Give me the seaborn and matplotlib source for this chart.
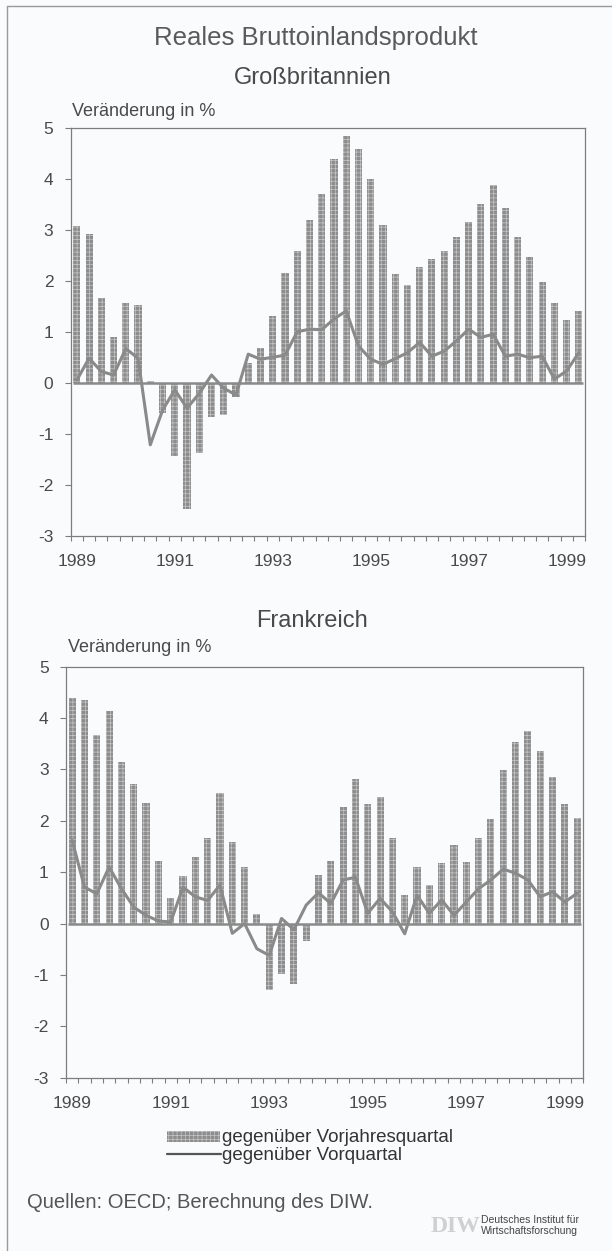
import numpy as np
import pandas as pd
import matplotlib
matplotlib.use("Agg")
import matplotlib.pyplot as plt
from matplotlib.lines import Line2D
from matplotlib.patches import Rectangle
import seaborn as sns

# ---------------- data ----------------
quarters = [f"{y}Q{q}" for y in range(1989, 2000) for q in range(1, 5)][:42]

uk_yoy = [3.08, 2.92, 1.67, 0.90, 1.56, 1.52, 0.03, -0.60, -1.44, -2.47,
          -1.39, -0.67, -0.64, -0.28, 0.39, 0.69, 1.30, 2.15, 2.58, 3.20,
          3.70, 4.39, 4.84, 4.59, 4.00, 3.10, 2.14, 1.92, 2.27, 2.42,
          2.58, 2.86, 3.15, 3.51, 3.88, 3.43, 2.86, 2.46, 1.98, 1.57,
          1.23, 1.40]
uk_qoq = [0.05, 0.48, 0.22, 0.15, 0.67, 0.48, -1.22, -0.54, -0.14, -0.50,
          -0.21, 0.15, -0.11, -0.24, 0.56, 0.46, 0.50, 0.54, 1.00, 1.05,
          1.04, 1.25, 1.41, 0.72, 0.46, 0.36, 0.47, 0.59, 0.79, 0.52,
          0.62, 0.82, 1.05, 0.89, 0.95, 0.52, 0.56, 0.49, 0.52, 0.07,
          0.23, 0.59]
fr_yoy = [4.40, 4.35, 3.67, 4.14, 3.14, 2.71, 2.34, 1.21, 0.49, 0.92,
          1.30, 1.66, 2.55, 1.59, 1.10, 0.19, -1.30, -0.99, -1.18, -0.34,
          0.95, 1.22, 2.27, 2.81, 2.32, 2.47, 1.67, 0.55, 1.11, 0.76,
          1.18, 1.53, 1.19, 1.67, 2.04, 2.99, 3.53, 3.74, 3.35, 2.86,
          2.32, 2.06]
fr_qoq = [1.62, 0.71, 0.58, 1.10, 0.68, 0.32, 0.16, 0.05, 0.03, 0.71,
          0.52, 0.45, 0.75, -0.19, 0.00, -0.49, -0.62, 0.10, -0.12, 0.36,
          0.60, 0.39, 0.85, 0.90, 0.20, 0.49, 0.23, -0.20, 0.55, 0.20,
          0.46, 0.16, 0.42, 0.68, 0.85, 1.06, 0.98, 0.85, 0.52, 0.62,
          0.42, 0.59]
year_labels = ["1989", "1991", "1993", "1995", "1997", "1999"]
y_ticks = [-3, -2, -1, 0, 1, 2, 3, 4, 5]

title = "Reales Bruttoinlandsprodukt"
panels = ["Großbritannien", "Frankreich"]
ylabel = "Veränderung in %"
legend_bar = "gegenüber Vorjahresquartal"
legend_line = "gegenüber Vorquartal"
source = "Quellen: OECD; Berechnung des DIW."

# ---------------- style ----------------
sns.set_theme(style="white")
plt.rcParams["font.family"] = ["Liberation Sans", "DejaVu Sans"]
plt.rcParams["hatch.linewidth"] = 0.5

BG = "#f9fbfc"
BAR = "#8d8d8d"
HATCH = "#c6c6c6"
LINE = "#8a8a8a"
TXT = "#4a4a4a"
SPINE = "#7d7d7d"

W, H = 612, 1251
fig = plt.figure(figsize=(W / 100, H / 100), dpi=100, facecolor=BG)


def fx(px):
    return px / W


def fy(py):
    return 1 - py / H


# axes positions in pixels: (left, right, top, bottom)
boxes = [(70.7, 585.0, 128.0, 535.5), (66.0, 583.3, 666.7, 1077.7)]
series = [(uk_yoy, uk_qoq), (fr_yoy, fr_qoq)]

axes = []
for (l, r, t, b), (yoy, qoq) in zip(boxes, series):
    ax = fig.add_axes([fx(l), fy(b), fx(r - l), (b - t) / H])
    ax.set_facecolor(BG)
    df = pd.DataFrame({"idx": np.arange(len(quarters)), "quarter": quarters,
                       "yoy": yoy, "qoq": qoq})
    sns.barplot(data=df, x="idx", y="yoy", native_scale=True, width=0.58,
                color=BAR, saturation=1, errorbar=None, ax=ax, zorder=2)
    for p in ax.patches:
        p.set_hatch("++++")
        p.set_edgecolor(HATCH)
        p.set_linewidth(0)
    ax.hlines(0, -0.3, len(quarters) - 0.7, color=LINE, lw=1.8, zorder=3)
    sns.lineplot(data=df, x="idx", y="qoq", color=LINE, lw=2.2, ax=ax,
                 zorder=4)
    ax.set_xlim(-0.42, len(quarters) - 0.5)
    ax.set_ylim(-3, 5)
    ax.set_yticks(y_ticks)
    ax.set_yticklabels([str(v) for v in y_ticks], fontsize=12.5, color=TXT)
    ax.set_xticks(np.arange(0, len(quarters), 8))
    ax.set_xticklabels(year_labels, fontsize=12.5, color=TXT)
    ax.set_xticks(np.arange(len(quarters) + 1) - 0.5, minor=True)
    ax.tick_params(axis="x", which="major", length=0, pad=13)
    ax.tick_params(axis="x", which="minor", length=3.5, width=0.8,
                   color=SPINE, direction="out", bottom=True)
    ax.tick_params(axis="y", which="major", length=4.5, width=0.8,
                   color=SPINE, direction="out", pad=8, left=True)
    ax.set_xlabel("")
    ax.set_ylabel("")
    for s in ax.spines.values():
        s.set_visible(True)
        s.set_color(SPINE)
        s.set_linewidth(0.9)
    axes.append(ax)

# ---------------- texts ----------------
fig.text(fx(316), fy(38), title, ha="center", va="center", fontsize=18.5,
         color="#5a5a5a")
fig.text(fx(313), fy(78), panels[0], ha="center", va="center", fontsize=17,
         color=TXT)
fig.text(fx(71.5), fy(112), ylabel, ha="left", va="center", fontsize=13,
         color=TXT)
fig.text(fx(312), fy(621), panels[1], ha="center", va="center", fontsize=17,
         color=TXT)
fig.text(fx(68), fy(648), ylabel, ha="left", va="center", fontsize=13,
         color=TXT)

# legend
rect = Rectangle((fx(167), fy(1142)), fx(53), 11 / H, transform=fig.transFigure,
                 facecolor=BAR, edgecolor=HATCH, hatch="++++", linewidth=0)
fig.add_artist(rect)
fig.text(fx(222), fy(1137), legend_bar, ha="left", va="center", fontsize=13.5,
         color="#333333")
fig.add_artist(Line2D([fx(167), fx(221)], [fy(1154), fy(1154)],
                      transform=fig.transFigure, color="#555555", lw=1.6))
fig.text(fx(222), fy(1156), legend_line, ha="left", va="center", fontsize=13.5,
         color="#333333")

# source
fig.text(fx(27), fy(1202), source, ha="left", va="center", fontsize=14.5,
         color="#555555")

# DIW logo
fig.text(fx(431), fy(1226), "DIW", ha="left", va="center", fontsize=17,
         color="#d0d0d0", fontweight="bold", family="Liberation Serif")
fig.text(fx(481), fy(1220), "Deutsches Institut für", ha="left", va="center",
         fontsize=7.5, color="#444444")
fig.text(fx(481), fy(1231), "Wirtschaftsforschung", ha="left", va="center",
         fontsize=7.5, color="#444444")

# frame lines
fig.add_artist(Line2D([fx(6.5), fx(6.5)], [0, fy(6)], transform=fig.transFigure,
                      color="#9a9a9a", lw=1.0))
fig.add_artist(Line2D([fx(6.5), 1], [fy(6), fy(6)], transform=fig.transFigure,
                      color="#9a9a9a", lw=1.0))

fig.savefig("out.png", dpi=100, facecolor=BG)
